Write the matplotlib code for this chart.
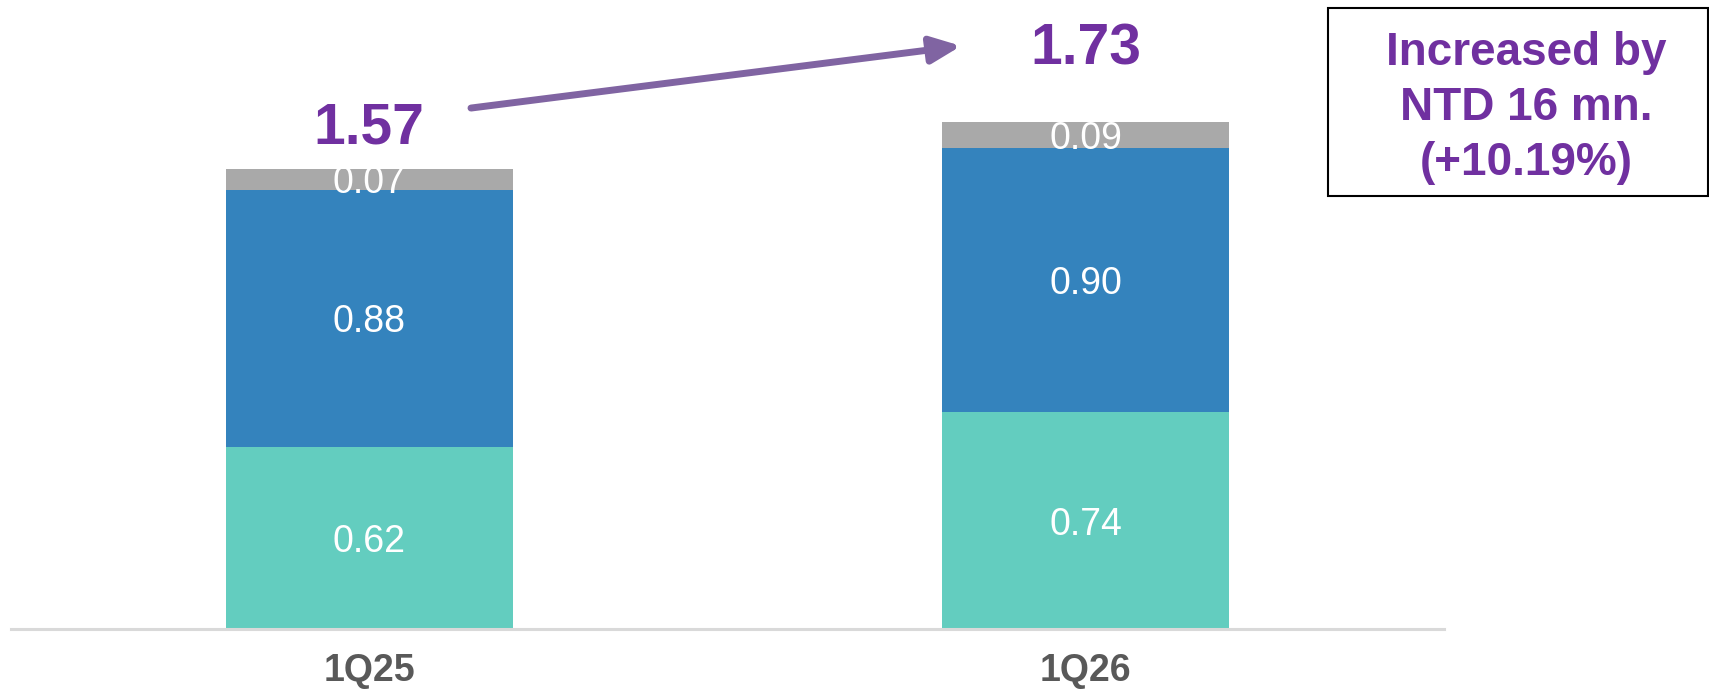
import numpy as np
import matplotlib.pyplot as plt
from matplotlib.patches import Rectangle

# data
quarters = ['1Q25', '1Q26']
seg_bottom = [0.62, 0.74]
seg_mid = [0.88, 0.90]
seg_top = [0.07, 0.09]
note_lines = ['Increased by', 'NTD 16 mn.', '(+10.19%)']

c_teal = '#63CDBF'
c_blue = '#3483BD'
c_gray = '#A9A9A9'
c_purple = '#7030A0'
c_arrow = '#8064A2'

plt.rcParams['font.family'] = ['Liberation Sans', 'DejaVu Sans']

fig = plt.figure(figsize=(17.09, 6.93), dpi=100)
ax = fig.add_axes([11/1709, 64/693, 1433/1709, 629/693])

x = np.arange(len(quarters))
w = 0.4
b1 = np.array(seg_bottom)
b2 = np.array(seg_mid)
b3 = np.array(seg_top)
tot = b1 + b2 + b3

ax.bar(x, b1, w, color=c_teal)
ax.bar(x, b2, w, bottom=b1, color=c_blue)
ax.bar(x, b3, w, bottom=b1+b2, color=c_gray)

def seg_label(xi, yi, v):
    ax.annotate('%.2f' % v, xy=(xi, yi), xytext=(0, -4), textcoords='offset pixels',
                ha='center', va='center', color='white', fontsize=27)

for i in range(len(x)):
    seg_label(x[i], b1[i]/2, b1[i])
    seg_label(x[i], b1[i] + b2[i]/2, b2[i])
    seg_label(x[i], b1[i] + b2[i] + b3[i]/2, b3[i])

# totals above the bars
offs = [40, 73]
for i in range(len(x)):
    ax.annotate('%.2f' % tot[i], xy=(x[i], tot[i]), xytext=(0, offs[i]), textcoords='offset pixels',
                ha='center', va='center', color=c_purple, fontsize=41, fontweight='bold')

# growth arrow
ax.annotate('', xy=(0.826, 1.99), xytext=(0.142, 1.778),
            arrowprops=dict(arrowstyle='-|>,head_length=0.9,head_width=0.4', lw=5,
                            color=c_arrow, mutation_scale=20, shrinkA=0, shrinkB=0))

ax.set_xlim(-0.5, 1.5)
ax.set_ylim(0, 629/293)
for s in ['top', 'right', 'left']:
    ax.spines[s].set_visible(False)
ax.spines['bottom'].set_color('#D9D9D9')
ax.spines['bottom'].set_linewidth(2.2)
ax.set_yticks([])
ax.set_xticks(x)
ax.set_xticklabels(quarters, fontsize=27, fontweight='bold', color='#595959')
ax.tick_params(axis='x', length=0, pad=17)

# note box
fig.patches.append(Rectangle((1328/1709, 497/693), 380/1709, 188/693, transform=fig.transFigure,
                             fill=False, edgecolor='black', lw=1.5))
fig.text(1526/1709, 1 - 108/693, '\n'.join(note_lines), ha='center', va='center',
         color=c_purple, fontsize=33, fontweight='bold', linespacing=1.32)

plt.savefig('out.png')
